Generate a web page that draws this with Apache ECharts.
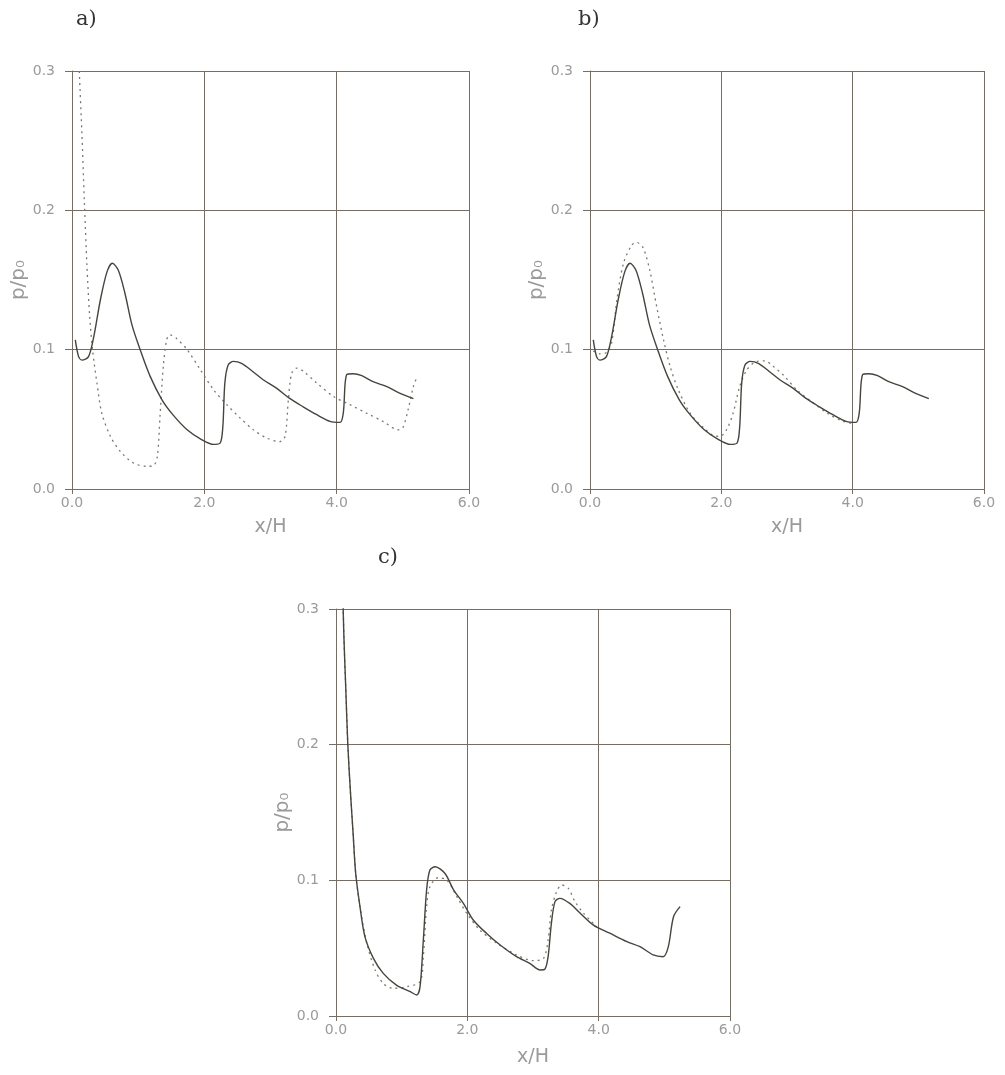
<!DOCTYPE html>
<html>
<head>
<meta charset="utf-8">
<script src="https://cdn.jsdelivr.net/npm/echarts@6/dist/echarts.min.js"></script>
<style>
html,body{margin:0;padding:0;background:#ffffff;}
#chart{width:1005px;height:1075px;}
</style>
</head>
<body>
<div id="chart"></div>
<script>
// x/H tick labels and p/p0 tick labels
const xTicks = [0, 2, 4, 6];
const yTicks = [0, 0.1, 0.2, 0.3];
const panelLabels = ['a)', 'b)', 'c)'];

// Panel a & b: solid curve (same computation in both panels)
const solidAB = [
  [0.05,0.107],[0.10,0.095],[0.15,0.0925],[0.25,0.095],[0.33,0.1095],[0.43,0.136],[0.53,0.156],
  [0.61,0.162],[0.70,0.157],[0.80,0.1405],[0.905,0.118],[1.03,0.100],[1.18,0.081],[1.36,0.064],
  [1.53,0.053],[1.74,0.0425],[1.94,0.036],[2.14,0.032],[2.24,0.033],[2.28,0.045],[2.31,0.076],
  [2.36,0.089],[2.44,0.0916],[2.57,0.090],[2.74,0.084],[2.89,0.0784],[3.09,0.0724],[3.29,0.065],
  [3.50,0.0588],[3.70,0.0533],[3.90,0.0485],[4.05,0.0478],[4.10,0.0545],[4.15,0.082],[4.25,0.0827],
  [4.38,0.0813],[4.55,0.077],[4.75,0.0736],[4.95,0.0688],[5.16,0.0648]
];

// Panel a: dashed curve
const dashedA = [
  [0.09,0.33],[0.11,0.30],[0.15,0.255],[0.186,0.2075],[0.226,0.16],[0.267,0.124],[0.31,0.100],
  [0.377,0.076],[0.45,0.0545],[0.58,0.0378],[0.73,0.027],[0.93,0.0186],[1.13,0.0163],[1.23,0.0167],
  [1.29,0.0234],[1.33,0.052],[1.38,0.088],[1.43,0.107],[1.48,0.1107],[1.58,0.108],[1.74,0.100],
  [1.94,0.0856],[2.14,0.0712],[2.34,0.0605],[2.54,0.051],[2.74,0.0425],[2.94,0.0366],[3.14,0.034],
  [3.22,0.0378],[3.27,0.064],[3.32,0.083],[3.40,0.0868],[3.50,0.0844],[3.70,0.076],[3.95,0.0665],
  [4.20,0.0605],[4.45,0.0545],[4.70,0.0485],[4.93,0.0425],[5.00,0.044],[5.08,0.057],[5.16,0.0736],
  [5.22,0.081]
];

// Panel b: dashed curve
const dashedB = [
  [0.05,0.099],[0.15,0.097],[0.25,0.098],[0.33,0.105],[0.41,0.136],[0.51,0.162],[0.635,0.175],
  [0.71,0.177],[0.81,0.173],[0.91,0.157],[1.015,0.131],[1.12,0.107],[1.22,0.088],[1.345,0.0712],
  [1.53,0.054],[1.74,0.0435],[1.90,0.038],[1.98,0.0378],[2.08,0.0425],[2.18,0.0545],[2.28,0.0736],
  [2.39,0.0856],[2.54,0.0916],[2.66,0.092],[2.79,0.088],[2.94,0.082],[3.15,0.0712],[3.40,0.0617],
  [3.65,0.0533],[3.86,0.0485],[3.98,0.0473]
];

// Panel c: solid curve
const solidC = [
  [0.10,0.32],[0.12,0.28],[0.15,0.24],[0.18,0.20],[0.22,0.165],[0.26,0.135],[0.30,0.105],
  [0.365,0.0806],[0.44,0.0585],
  [0.57,0.0425],[0.72,0.0314],[0.92,0.0228],[1.13,0.0179],[1.23,0.0155],[1.28,0.0216],[1.33,0.056],
  [1.38,0.093],[1.43,0.1076],[1.51,0.110],[1.66,0.105],[1.79,0.093],[1.94,0.083],[2.09,0.0708],
  [2.29,0.061],[2.50,0.0523],[2.75,0.0437],[2.95,0.0388],[3.11,0.0339],[3.18,0.0344],[3.23,0.0437],
  [3.28,0.0683],[3.335,0.0843],[3.41,0.0867],[3.56,0.083],[3.72,0.0757],[3.92,0.067],[4.17,0.061],
  [4.43,0.0548],[4.63,0.0511],[4.83,0.045],[4.98,0.0437],[5.06,0.051],[5.14,0.0732],[5.24,0.0806]
];

// Panel c: dashed curve
const dashedC = [
  [0.10,0.32],[0.12,0.28],[0.15,0.24],[0.18,0.20],[0.22,0.165],[0.26,0.135],[0.30,0.105],
  [0.365,0.0806],[0.47,0.0536],
  [0.595,0.034],[0.72,0.024],[0.87,0.0204],[1.08,0.0216],[1.28,0.0253],[1.33,0.0437],[1.38,0.0806],
  [1.43,0.0953],[1.56,0.102],[1.69,0.100],[1.84,0.088],[1.99,0.0757],[2.19,0.0634],[2.45,0.0536],
  [2.75,0.045],[3.00,0.0408],[3.16,0.0425],[3.23,0.056],[3.28,0.078],[3.36,0.0917],[3.44,0.0966],
  [3.54,0.094],[3.64,0.0843],[3.77,0.0757],[3.97,0.0658]
];

const GRID_COLOR = '#766e64';
const LABEL_COLOR = '#9a9a9a';
const SOLID_COLOR = '#47433d';
const DASH_COLOR = '#7d786f';

const grids = [
  {left:72, top:71, width:397, height:418},
  {left:590, top:71, width:394, height:418},
  {left:336, top:609, width:394, height:407}
];
const xNameGaps = [29, 29, 32];

function xAxisFor(i){
  return {
    type:'value', gridIndex:i, min:xTicks[0], max:xTicks[xTicks.length-1], interval:2,
    name:'x/H', nameLocation:'middle', nameGap:xNameGaps[i],
    nameTextStyle:{color:LABEL_COLOR, fontSize:19, fontFamily:'DejaVu Sans'},
    axisLine:{show:true, lineStyle:{color:GRID_COLOR, width:1}},
    axisTick:{show:true, inside:false, length:5, lineStyle:{color:GRID_COLOR, width:1}},
    splitLine:{show:true, lineStyle:{color:GRID_COLOR, width:1}},
    axisLabel:{color:LABEL_COLOR, fontSize:14, fontFamily:'DejaVu Sans', margin:7,
      formatter:v=>v.toFixed(1)}
  };
}
function yAxisFor(i){
  return {
    type:'value', gridIndex:i, min:yTicks[0], max:yTicks[yTicks.length-1], interval:0.1,
    name:'p/p\u2080', nameLocation:'middle', nameGap:38,
    nameTextStyle:{color:LABEL_COLOR, fontSize:20, fontFamily:'DejaVu Sans'},
    axisLine:{show:true, lineStyle:{color:GRID_COLOR, width:1}},
    axisTick:{show:true, inside:false, length:7, lineStyle:{color:GRID_COLOR, width:1}},
    splitLine:{show:true, lineStyle:{color:GRID_COLOR, width:1}},
    axisLabel:{color:LABEL_COLOR, fontSize:14, fontFamily:'DejaVu Sans', margin:17,
      formatter:v=>v.toFixed(1)}
  };
}
function solid(i, data){
  return {type:'line', xAxisIndex:i, yAxisIndex:i, data:data, showSymbol:false, symbol:'none',
    smooth:0.3, clip:true,
    lineStyle:{color:SOLID_COLOR, width:1.4, type:'solid'}, z:3};
}
function dashed(i, data){
  return {type:'line', xAxisIndex:i, yAxisIndex:i, data:data, showSymbol:false, symbol:'none',
    smooth:0.3, clip:true,
    lineStyle:{color:DASH_COLOR, width:1.3, type:[2,4]}, z:2};
}

const option = {
  backgroundColor:'#ffffff',
  animation:false,
  title:[
    {text:panelLabels[0], left:71, top:4, textStyle:{fontFamily:'DejaVu Serif', fontSize:21, fontWeight:'normal', color:'#333'}},
    {text:panelLabels[1], left:573, top:4, textStyle:{fontFamily:'DejaVu Serif', fontSize:21, fontWeight:'normal', color:'#333'}},
    {text:panelLabels[2], left:373, top:542, textStyle:{fontFamily:'DejaVu Serif', fontSize:21, fontWeight:'normal', color:'#333'}}
  ],
  grid:grids,
  xAxis:[xAxisFor(0), xAxisFor(1), xAxisFor(2)],
  yAxis:[yAxisFor(0), yAxisFor(1), yAxisFor(2)],
  series:[
    solid(0, solidAB), dashed(0, dashedA),
    solid(1, solidAB), dashed(1, dashedB),
    solid(2, solidC), dashed(2, dashedC)
  ]
};
const chart = echarts.init(document.getElementById('chart'), null, {renderer:'canvas'});
chart.setOption(option);
</script>
</body>
</html>
